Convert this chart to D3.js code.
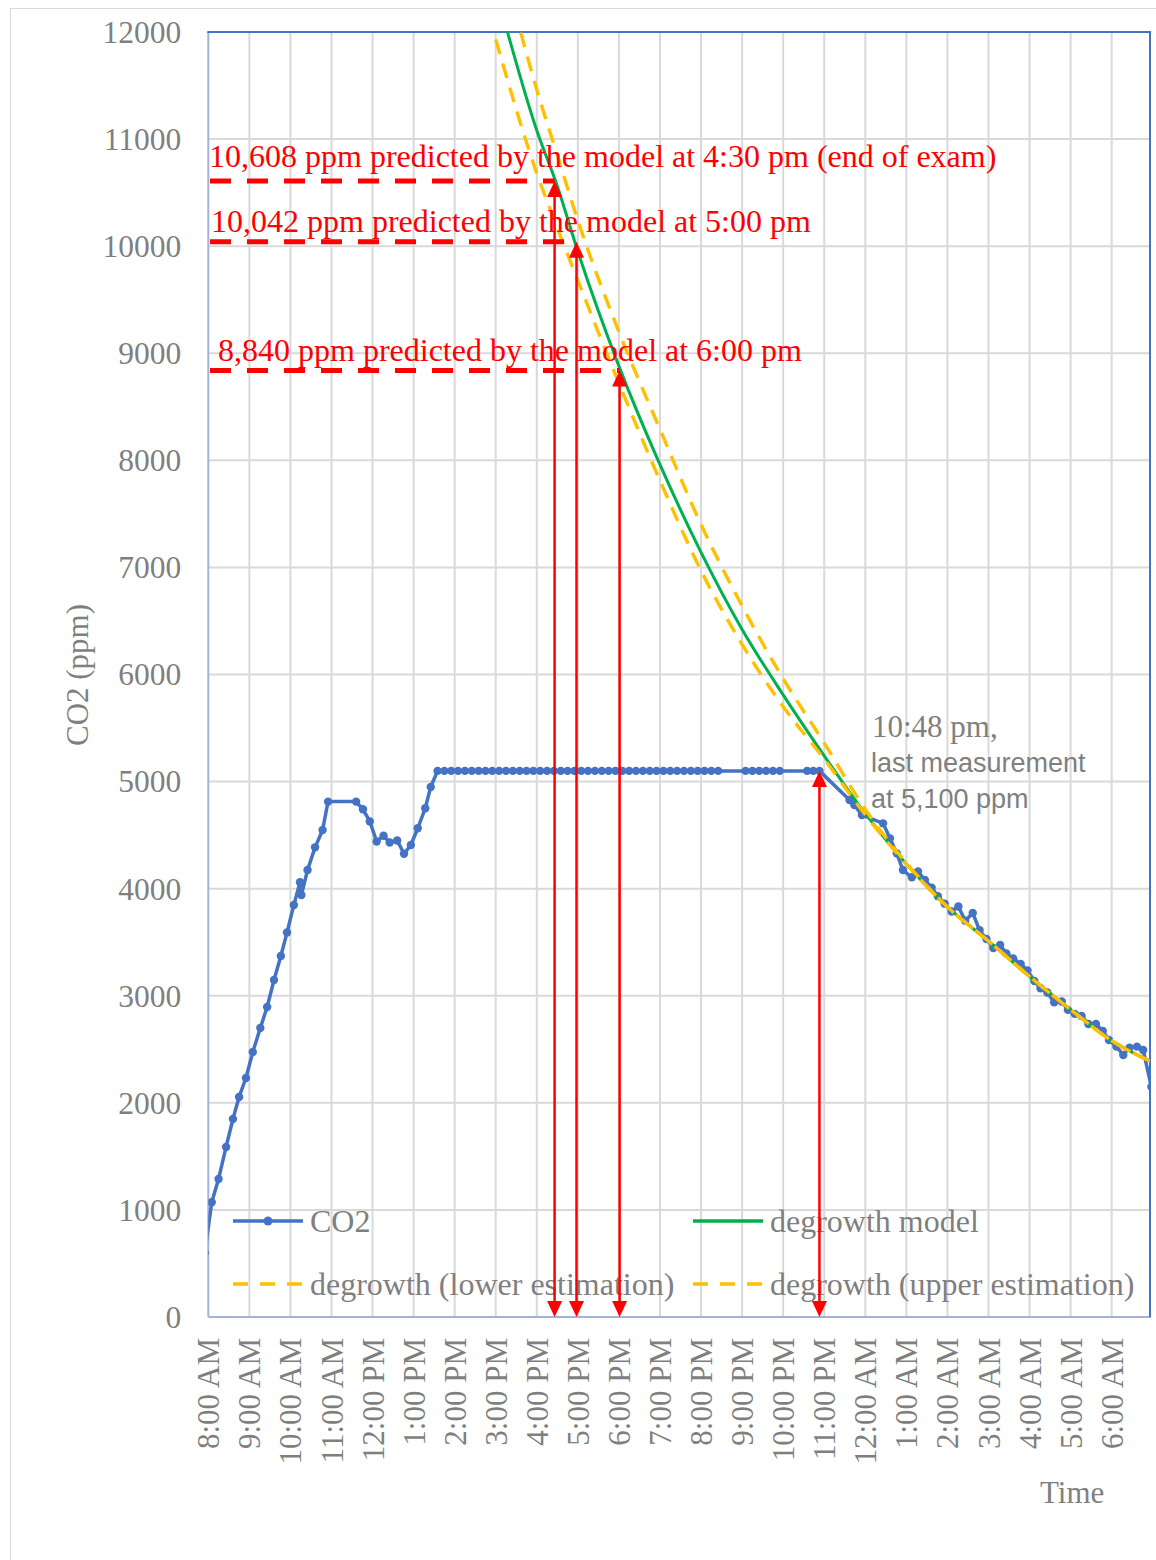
<!DOCTYPE html>
<html><head><meta charset="utf-8">
<script src="https://cdn.jsdelivr.net/npm/d3@7/dist/d3.min.js"></script>
<style>body{margin:0;background:#fff}</style>
</head><body>
<svg id="chart" width="1156" height="1560"></svg>
<script>
// ---------------- DATA ----------------
const co2Times = ["07:55","08:05","08:15","08:26","08:36","08:45","08:55","09:05","09:16","09:26","09:36","09:46","09:55","10:05","10:14","10:16","10:25","10:36","10:47","10:55","11:36","11:46","11:56","12:06","12:16","12:25","12:36","12:46","12:56","13:06","13:17","13:25",
"13:35","13:45","13:55","14:05","14:15","14:25","14:35","14:45","14:55","15:05","15:15","15:25","15:35","15:45","15:55","16:05","16:15","16:25","16:35","16:45","16:55","17:05","17:15","17:25","17:35","17:45","17:55","18:05","18:15","18:25","18:35","18:45","18:55","19:05","19:15","19:25","19:35","19:45","19:55","20:05","20:15","20:25",
"21:05","21:15","21:25","21:35","21:45","21:55","22:35","22:44","22:53",
"23:37","23:44","23:55","00:26","00:36","00:46","00:55","01:08","01:17","01:27","01:37","01:46","01:56","02:06","02:16","02:26","02:37","02:47","02:57","03:07","03:17","03:26","03:36","03:47","03:57","04:07","04:16","04:26","04:36","04:47","04:56","05:06","05:16","05:26","05:37","05:47","05:56","06:07","06:17","06:26","06:37","06:46","06:58"];
const co2Values = [600,1071,1289,1588,1849,2055,2232,2475,2699,2895,3147,3371,3590,3848,4060,3940,4174,4386,4548,4813,4813,4741,4628,4441,4494,4431,4450,4326,4408,4564,4751,4949,
5100,5100,5100,5100,5100,5100,5100,5100,5100,5100,5100,5100,5100,5100,5100,5100,5100,5100,5100,5100,5100,5100,5100,5100,5100,5100,5100,5100,5100,5100,5100,5100,5100,5100,5100,5100,5100,5100,5100,5100,5100,5100,
5100,5100,5100,5100,5100,5100,5100,5100,5100,
4828,4781,4688,4610,4470,4330,4174,4106,4161,4081,4010,3930,3860,3787,3834,3700,3773,3611,3530,3446,3474,3396,3349,3297,3237,3138,3070,3031,2938,2947,2868,2831,2811,2736,2736,2671,2587,2525,2447,2515,2525,2494,2150];

const modelTimes  = ["15:00","16:00","16:30","17:00","18:00","19:00","20:00","21:00","22:00","23:00","00:00","01:00","02:00","03:00","04:00","05:00","06:00","06:56"];
const modelValues = [12400,11080,10560,9950,8880,7960,7140,6420,5810,5240,4700,4230,3830,3510,3180,2870,2580,2390];
const lowerValues = [11930,10680,10170,9680,8720,7810,6970,6280,5700,5210,4690,4230,3830,3510,3180,2870,2580,2390];
const upperValues = [12900,11460,10850,10240,9200,8290,7400,6640,5960,5360,4740,4240,3830,3510,3180,2870,2580,2390];

const yTicks = [0,1000,2000,3000,4000,5000,6000,7000,8000,9000,10000,11000,12000];
const xStart = "08:00", xEnd = "06:56";

const predTimes  = ["16:26","16:58","18:01"];
const predValues = [10608,10042,8840];
const predLabels = ["10,608 ppm predicted by the model at 4:30 pm (end of exam)",
                    "10,042 ppm predicted by the model at 5:00 pm",
                    "8,840 ppm predicted by the model at 6:00 pm"];
const lastTime = "22:53", lastValue = 5100;
const lastNote = ["10:48 pm,", "last measurement", "at 5,100 ppm"];
const legendNames = ["CO2","degrowth model","degrowth (lower estimation)","degrowth (upper estimation)"];

// ---------------- CHART ----------------
const parseT = s => { const [h,m] = s.split(":").map(Number); return new Date(2000,0,h<7?2:1,h,m); };
const svg = d3.select("#chart");
const L=208.3, R=1150, T=32, B=1317;
const x = d3.scaleTime().domain([parseT(xStart), parseT(xEnd)]).range([L,R]);
const y = d3.scaleLinear().domain([0,12000]).range([B,T]);
const serif = "'Liberation Serif','Times New Roman',serif";
const gray = "#7f7f7f";
const blue="#4472C4", green="#00B050", yellow="#FFC000", red="#FF0000";

// outer chart border
svg.append("rect").attr("x",10.5).attr("y",8.5).attr("width",1170).attr("height",1600)
  .attr("fill","none").attr("stroke","#d9d9d9").attr("stroke-width",1);

svg.append("defs").append("clipPath").attr("id","clip")
  .append("rect").attr("x",L).attr("y",T).attr("width",R-L).attr("height",B-T);

// gridlines
const hourTicks = x.ticks(d3.timeHour.every(1));
svg.append("g").selectAll("line").data(hourTicks.slice(1)).join("line")
  .attr("x1",d=>x(d)).attr("x2",d=>x(d)).attr("y1",T).attr("y2",B)
  .attr("stroke","#d9d9d9").attr("stroke-width",2);
svg.append("g").selectAll("line").data(yTicks.slice(1,-1)).join("line")
  .attr("x1",L).attr("x2",R).attr("y1",d=>y(d)).attr("y2",d=>y(d))
  .attr("stroke","#d9d9d9").attr("stroke-width",2);

// axes
const yAxis = svg.append("g").attr("transform",`translate(${L},0)`)
  .call(d3.axisLeft(y).tickValues(yTicks).tickSize(0).tickPadding(27).tickFormat(d3.format("d")));
yAxis.select(".domain").remove();
yAxis.selectAll("text").attr("font-family",serif).attr("font-size",31.5).attr("fill",gray).attr("dy","0.33em");

const xAxis = svg.append("g").attr("transform",`translate(0,${B})`)
  .call(d3.axisBottom(x).ticks(d3.timeHour.every(1)).tickSize(0).tickFormat(d3.timeFormat("%-I:%M %p")));
xAxis.select(".domain").remove();
xAxis.selectAll("text").attr("font-family",serif).attr("font-size",31).attr("fill",gray)
  .attr("transform","rotate(-90)").attr("x",-21).attr("y",0).attr("dy","0.34em").style("text-anchor","end");

// plot frame
svg.append("line").attr("x1",L).attr("x2",L).attr("y1",T).attr("y2",B).attr("stroke","#a3b3d8").attr("stroke-width",2);
svg.append("line").attr("x1",L).attr("x2",R+1).attr("y1",B).attr("y2",B).attr("stroke","#a3b3d8").attr("stroke-width",2);
svg.append("line").attr("x1",L-1).attr("x2",R+1).attr("y1",T).attr("y2",T).attr("stroke",blue).attr("stroke-width",2);
svg.append("line").attr("x1",R).attr("x2",R).attr("y1",T).attr("y2",B).attr("stroke",blue).attr("stroke-width",2);

// series
const plot = svg.append("g").attr("clip-path","url(#clip)");
const co2 = co2Times.map((t,i)=>({t:parseT(t), v:co2Values[i]}));
plot.append("path").datum(co2).attr("fill","none").attr("stroke",blue).attr("stroke-width",3.5)
  .attr("stroke-linejoin","round")
  .attr("d", d3.line().x(d=>x(d.t)).y(d=>y(d.v)));
plot.append("g").selectAll("circle").data(co2).join("circle")
  .attr("cx",d=>x(d.t)).attr("cy",d=>y(d.v)).attr("r",4.2).attr("fill",blue);

const mline = vals => d3.line().curve(d3.curveMonotoneX).x((d,i)=>x(parseT(modelTimes[i]))).y(d=>y(d))(vals);
plot.append("path").attr("d",mline(modelValues)).attr("fill","none").attr("stroke",green).attr("stroke-width",3);
plot.append("path").attr("d",mline(lowerValues)).attr("fill","none").attr("stroke",yellow).attr("stroke-width",3.4).attr("stroke-dasharray","15,10");
plot.append("path").attr("d",mline(upperValues)).attr("fill","none").attr("stroke",yellow).attr("stroke-width",3.4).attr("stroke-dasharray","15,10");

// legend
const lg = svg.append("g").attr("font-family",serif).attr("font-size",32).attr("fill",gray);
const legendItems = [
  {name:legendNames[0], x:233, y:1221, color:blue, dash:null, marker:true},
  {name:legendNames[1], x:693, y:1221, color:green, dash:null},
  {name:legendNames[2], x:233, y:1284, color:yellow, dash:"15,12"},
  {name:legendNames[3], x:693, y:1284, color:yellow, dash:"15,12"}];
legendItems.forEach(it=>{
  lg.append("line").attr("x1",it.x).attr("x2",it.x+70).attr("y1",it.y).attr("y2",it.y)
    .attr("stroke",it.color).attr("stroke-width",3.4).attr("stroke-dasharray",it.dash);
  if(it.marker) lg.append("circle").attr("cx",it.x+35).attr("cy",it.y).attr("r",4.5).attr("fill",it.color);
  lg.append("text").attr("x",it.x+77).attr("y",it.y+11).text(it.name);
});

// red annotations
const ann = svg.append("g");
function arrowHead(g, cx, tipY, dir){ // dir -1 up, +1 down
  const h=16, w=7.5;
  g.append("path").attr("d",`M${cx},${tipY} L${cx-w},${tipY-dir*h} L${cx+w},${tipY-dir*h} Z`).attr("fill",red);
}
const labelPos = [{x:209,y:167},{x:211,y:232},{x:218,y:361}];
predTimes.forEach((t,i)=>{
  const ax = x(parseT(t)), ay = y(predValues[i]);
  ann.append("line").attr("x1",210).attr("x2",ax).attr("y1",ay).attr("y2",ay)
    .attr("stroke",red).attr("stroke-width",5).attr("stroke-dasharray","21,16");
  ann.append("line").attr("x1",ax).attr("x2",ax).attr("y1",ay+10).attr("y2",B-10)
    .attr("stroke",red).attr("stroke-width",2.5);
  arrowHead(ann, ax, ay, -1);
  arrowHead(ann, ax, B, 1);
  ann.append("text").attr("x",labelPos[i].x).attr("y",labelPos[i].y)
    .attr("font-family",serif).attr("font-size",32).attr("fill",red).text(predLabels[i]);
});
{
  const ax = x(parseT(lastTime)), ay = y(lastValue);
  ann.append("line").attr("x1",ax).attr("x2",ax).attr("y1",ay+10).attr("y2",B-10)
    .attr("stroke",red).attr("stroke-width",2.5);
  arrowHead(ann, ax, ay, -1);
  arrowHead(ann, ax, B, 1);
}
svg.append("text").attr("x",872).attr("y",737).attr("font-family",serif).attr("font-size",31).attr("fill",gray).text(lastNote[0]);
svg.append("text").attr("x",871).attr("y",772).attr("font-family","'Liberation Sans',Arial,sans-serif").attr("font-size",27).attr("fill",gray).text(lastNote[1]);
svg.append("text").attr("x",871).attr("y",808).attr("font-family","'Liberation Sans',Arial,sans-serif").attr("font-size",27).attr("fill",gray).text(lastNote[2]);

// axis titles
svg.append("text").attr("x",1040).attr("y",1503).attr("font-family",serif).attr("font-size",31).attr("fill",gray).text("Time");
svg.append("text").attr("transform","translate(88,675) rotate(-90)").attr("text-anchor","middle")
  .attr("font-family",serif).attr("font-size",31).attr("fill",gray).text("CO2 (ppm)");
</script>
</body></html>
